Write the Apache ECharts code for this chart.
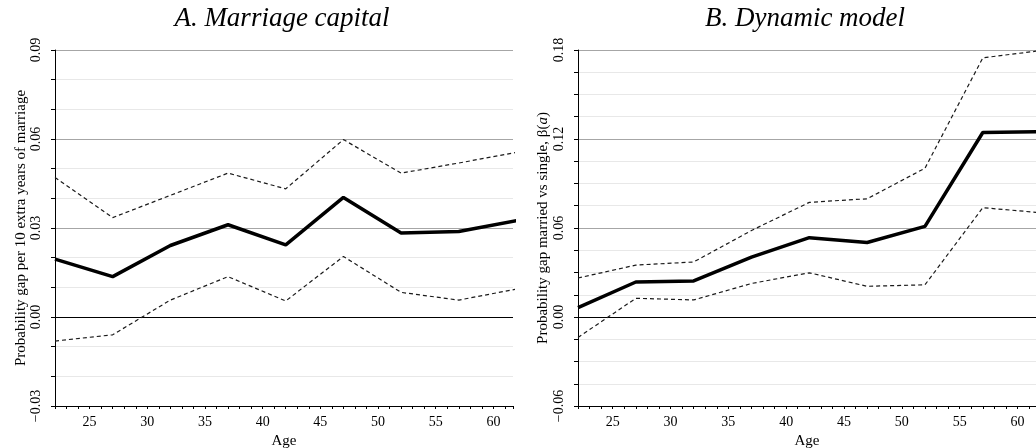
<!DOCTYPE html>
<html>
<head>
<meta charset="utf-8">
<script src="https://cdn.jsdelivr.net/npm/echarts@6/dist/echarts.min.js"></script>
<style>
    html, body { margin: 0; padding: 0; background: #fff; }
    #chart { width: 1036px; height: 448px; }
</style>
</head>
<body>
<div id="chart"></div>
<script>
// ages where the estimates are reported
var ages = [22, 27, 32, 37, 42, 47, 52, 57, 62];

// panel A: marriage capital
var capitalEst = [0.0195, 0.0136, 0.0241, 0.0311, 0.0243, 0.0403, 0.0283, 0.0288, 0.0325];
var capitalHigh = [0.0470, 0.0335, 0.0410, 0.0485, 0.0432, 0.0598, 0.0485, 0.0519, 0.0555];
var capitalLow = [-0.0081, -0.0060, 0.0057, 0.0136, 0.0054, 0.0204, 0.0083, 0.0057, 0.0094];

// panel B: dynamic model
var dynamicEst = [0.0063, 0.0236, 0.0243, 0.0404, 0.0535, 0.0502, 0.0611, 0.1244, 0.1250];
var dynamicHigh = [0.0263, 0.0350, 0.0371, 0.0583, 0.0773, 0.0797, 0.1003, 0.1747, 0.1796];
var dynamicLow = [-0.0138, 0.0126, 0.0115, 0.0226, 0.0298, 0.0207, 0.0217, 0.0737, 0.0703];

var titles = ['A. Marriage capital', 'B. Dynamic model'];
var yNames = [
    'Probability gap per 10 extra years of marriage',
    '{n|Probability gap married vs single, β(}{i|a}{n|)}'
];

var serif = 'Liberation Serif';
var light = '#e8e8e8', mid = '#a6a6a6', zero = '#000';

function pairs(ys) {
    return ages.map(function (a, i) { return [a, ys[i]]; });
}

function xAxis(idx, max) {
    return {
        type: 'value', gridIndex: idx, min: 22, max: max, interval: 1,
        name: 'Age', nameLocation: 'middle', nameGap: 26,
        nameTextStyle: { fontFamily: serif, fontSize: 15, color: '#000' },
        axisLine: { onZero: false, lineStyle: { color: '#000', width: 1 } },
        axisTick: { length: 3, lineStyle: { color: '#000' } },
        axisLabel: {
            fontFamily: serif, fontSize: 14, color: '#000', margin: 9,
            formatter: function (v) { return (Math.abs(v % 5) < 1e-6) ? String(v) : ''; }
        },
        splitLine: { show: false }
    };
}

function yAxis(idx, min, max, step, major, colors, name, gap) {
    return {
        type: 'value', gridIndex: idx, min: min, max: max, interval: step,
        name: name, nameLocation: 'middle', nameGap: gap,
        nameTextStyle: {
            fontFamily: serif, fontSize: 15, color: '#000',
            rich: {
                n: { fontFamily: serif, fontSize: 15, color: '#000' },
                i: { fontFamily: serif, fontSize: 15, color: '#000', fontStyle: 'italic' }
            }
        },
        axisLine: { show: true, onZero: false, lineStyle: { color: '#000', width: 1 } },
        axisTick: { length: 4, lineStyle: { color: '#000' } },
        axisLabel: {
            fontFamily: serif, fontSize: 14, color: '#000', rotate: 90, margin: 12,
            formatter: function (v) {
                var r = v / major;
                if (Math.abs(r - Math.round(r)) > 1e-6) return '';
                var s = Math.abs(v).toFixed(2);
                return v < -1e-9 ? '\u2212' + s : s;
            }
        },
        splitLine: { show: true, lineStyle: { color: colors, width: 1 } }
    };
}

function line(idx, ys, dashed) {
    return {
        type: 'line', xAxisIndex: idx, yAxisIndex: idx, data: pairs(ys),
        symbol: 'none', silent: true, clip: true,
        lineStyle: dashed
            ? { color: '#1a1a1a', width: 1.2, type: [4, 3] }
            : { color: '#000', width: 3.5 }
    };
}

var leftColors = [mid, light, light, zero, light, light, mid, light, light, mid, light, light, mid];
var rightColors = [mid, light, light, light, zero, light, light, light, mid, light, light, light,
    mid, light, light, light, mid];

var chart = echarts.init(document.getElementById('chart'), null, { renderer: 'canvas' });

var titleStyle = { fontFamily: serif, fontStyle: 'italic', fontWeight: 'normal', fontSize: 27, color: '#000' };

chart.setOption({
    backgroundColor: '#fff',
    animation: false,
    title: [
        { text: titles[0], left: 277, top: 0, textAlign: 'center', textStyle: titleStyle },
        { text: titles[1], left: 800, top: 0, textAlign: 'center', textStyle: titleStyle }
    ],
    grid: [
        { left: 55, top: 50, width: 458, height: 356, outerBoundsMode: 'none' },
        { left: 578, top: 50, width: 458, height: 356, outerBoundsMode: 'none' }
    ],
    xAxis: [xAxis(0, 61.7), xAxis(1, 61.6)],
    yAxis: [
        yAxis(0, -0.03, 0.09, 0.01, 0.03, leftColors, yNames[0], 24),
        yAxis(1, -0.06, 0.18, 0.015, 0.06, rightColors, yNames[1], 27)
    ],
    series: [
        line(0, capitalHigh, true),
        line(0, capitalLow, true),
        line(0, capitalEst, false),
        line(1, dynamicHigh, true),
        line(1, dynamicLow, true),
        line(1, dynamicEst, false)
    ]
});
</script>
</body>
</html>
